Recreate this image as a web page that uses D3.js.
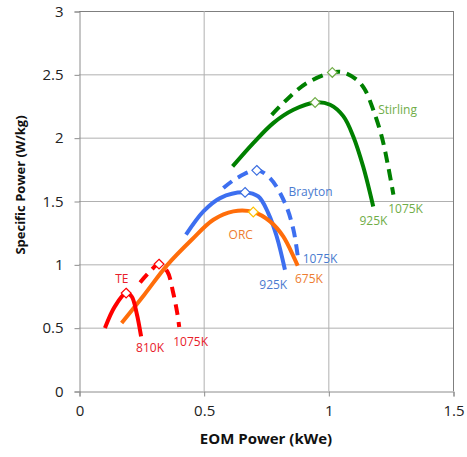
<!DOCTYPE html>
<html><head><meta charset="utf-8">
<script src="https://cdn.jsdelivr.net/npm/d3@7"></script>
<style>body{margin:0;background:#fff}svg{display:block}</style>
</head><body>
<svg id="c" width="467" height="457"></svg>
<script>
// Data (x = EOM Power kWe, y = Specific Power W/kg)
const xTicks = [0, 0.5, 1, 1.5];
const yTicks = [0, 0.5, 1, 1.5, 2, 2.5, 3];
const xTickLabels = ["0", "0.5", "1", "1.5"];
const yTickLabels = ["0", "0.5", "1", "1.5", "2", "2.5", "3"];

const stirling925 = [[0.616,1.773],[0.699,1.957],[0.779,2.115],[0.860,2.22],[0.947,2.278],[1.007,2.26],[1.06,2.17],[1.10,2.01],[1.14,1.77],[1.18,1.457]];
const stirling1075 = [[0.773,2.18],[0.833,2.30],[0.913,2.43],[1.016,2.515],[1.06,2.515],[1.114,2.457],[1.147,2.378],[1.18,2.22],[1.214,2.01],[1.24,1.773],[1.261,1.55]];
const brayton925 = [[0.429,1.234],[0.499,1.418],[0.566,1.523],[0.666,1.568],[0.719,1.536],[0.759,1.405],[0.793,1.22],[0.826,0.957]];
const brayton1075 = [[0.579,1.602],[0.633,1.681],[0.713,1.742],[0.766,1.681],[0.826,1.484],[0.86,1.273],[0.88,1.023]];
const orc675 = [[0.171,0.537],[0.262,0.76],[0.352,0.99],[0.452,1.194],[0.539,1.352],[0.619,1.418],[0.699,1.413],[0.766,1.339],[0.819,1.22],[0.877,0.989]];
const te810 = [[0.104,0.497],[0.144,0.668],[0.189,0.773],[0.211,0.747],[0.231,0.616],[0.249,0.431]];
const te1075 = [[0.245,0.857],[0.285,0.944],[0.321,1.002],[0.354,0.944],[0.378,0.773],[0.394,0.616],[0.402,0.505]];

const peakMarkers = [
  {x:0.947,y:2.278,c:"#70ad47"},{x:1.016,y:2.515,c:"#70ad47"},
  {x:0.666,y:1.568,c:"#3d6fe0"},{x:0.713,y:1.742,c:"#3d6fe0"},
  {x:0.699,y:1.413,c:"#ffc000"},
  {x:0.189,y:0.773,c:"#ff0000"},{x:0.321,y:1.002,c:"#ff0000"}
];

const labels = [
  {t:"Stirling",x:1.2,y:2.22,c:"#70ad47"},
  {t:"1075K",x:1.24,y:1.44,c:"#70ad47"},
  {t:"925K",x:1.125,y:1.34,c:"#70ad47"},
  {t:"Brayton",x:0.84,y:1.575,c:"#4a7bd0"},
  {t:"1075K",x:0.897,y:1.041,c:"#4a7bd0"},
  {t:"925K",x:0.723,y:0.84,c:"#4a7bd0"},
  {t:"675K",x:0.866,y:0.884,c:"#ed7d31"},
  {t:"ORC",x:0.6,y:1.233,c:"#ed7d31"},
  {t:"TE",x:0.145,y:0.884,c:"#e8202a"},
  {t:"810K",x:0.229,y:0.339,c:"#e8202a"},
  {t:"1075K",x:0.378,y:0.391,c:"#e8202a"}
];

const series = [
  {d:stirling925,c:"#008000",dash:null},
  {d:stirling1075,c:"#008000",dash:"11,7"},
  {d:brayton925,c:"#3d6ff0",dash:null},
  {d:brayton1075,c:"#3d6ff0",dash:"11,7"},
  {d:orc675,c:"#ff6d0a",dash:null},
  {d:te810,c:"#ff0000",dash:null},
  {d:te1075,c:"#ff0000",dash:"11,7"}
];

const svg = d3.select("#c");
const L=79, R=453, T=11, B=391;
const x = d3.scaleLinear().domain([0,1.5]).range([L,R]);
const y = d3.scaleLinear().domain([0,3]).range([B,T]);

// gridlines
svg.append("g").selectAll("line").data(yTicks.slice(1)).join("line")
  .attr("x1",L).attr("x2",R).attr("y1",d=>y(d)+0.5).attr("y2",d=>y(d)+0.5)
  .attr("stroke",d=>d===3?"#7f7f7f":"#b0b0b0").attr("stroke-width",1);
svg.append("g").selectAll("line").data(xTicks.slice(1)).join("line")
  .attr("y1",T).attr("y2",B).attr("x1",d=>x(d)+0.5).attr("x2",d=>x(d)+0.5)
  .attr("stroke",d=>d===1.5?"#7f7f7f":"#b0b0b0").attr("stroke-width",1);

// axes
const xAxis = d3.axisBottom(x).tickValues(xTicks).tickFormat((d,i)=>xTickLabels[i]).tickSize(5).tickPadding(9);
const yAxis = d3.axisLeft(y).tickValues(yTicks).tickFormat((d,i)=>yTickLabels[i]).tickSize(5).tickPadding(11);
const gx = svg.append("g").attr("transform",`translate(0.5,${B+0.5})`).call(xAxis);
const gy = svg.append("g").attr("transform",`translate(${L+0.5},0.5)`).call(yAxis);
[gx,gy].forEach(g=>{
  g.selectAll("path,line").attr("stroke","#8c8c8c");
  g.selectAll("text").attr("font-family","Open Sans").attr("font-size",15).attr("fill","#222");
});

// curves
const line = d3.line().x(d=>x(d[0])).y(d=>y(d[1])).curve(d3.curveCatmullRom.alpha(0.5));
svg.append("g").selectAll("path").data(series).join("path")
  .attr("d",s=>line(s.d)).attr("fill","none").attr("stroke",s=>s.c)
  .attr("stroke-width",4).attr("stroke-dasharray",s=>s.dash);

// markers
const sym = d3.symbol().type(d3.symbolDiamond2).size(60);
svg.append("g").selectAll("path").data(peakMarkers).join("path")
  .attr("d",sym).attr("transform",d=>`translate(${x(d.x)},${y(d.y)})`)
  .attr("fill","#fff").attr("stroke",d=>d.c).attr("stroke-width",1.2);

// labels
svg.append("g").selectAll("text").data(labels).join("text")
  .attr("x",d=>x(d.x)).attr("y",d=>y(d.y)).attr("dy","0.35em")
  .attr("font-family","Open Sans").attr("font-size",12).attr("fill",d=>d.c).text(d=>d.t);

// axis titles
svg.append("text").attr("x",266).attr("y",444).attr("text-anchor","middle")
  .attr("font-family","Open Sans").attr("font-weight","bold").attr("font-size",15).attr("fill","#111")
  .text("EOM Power (kWe)");
svg.append("text").attr("transform",`translate(25,185) rotate(-90)`).attr("text-anchor","middle")
  .attr("font-family","Open Sans").attr("font-weight","bold").attr("font-size",13).attr("fill","#111")
  .text("Specific Power (W/kg)");
</script>
</body></html>
